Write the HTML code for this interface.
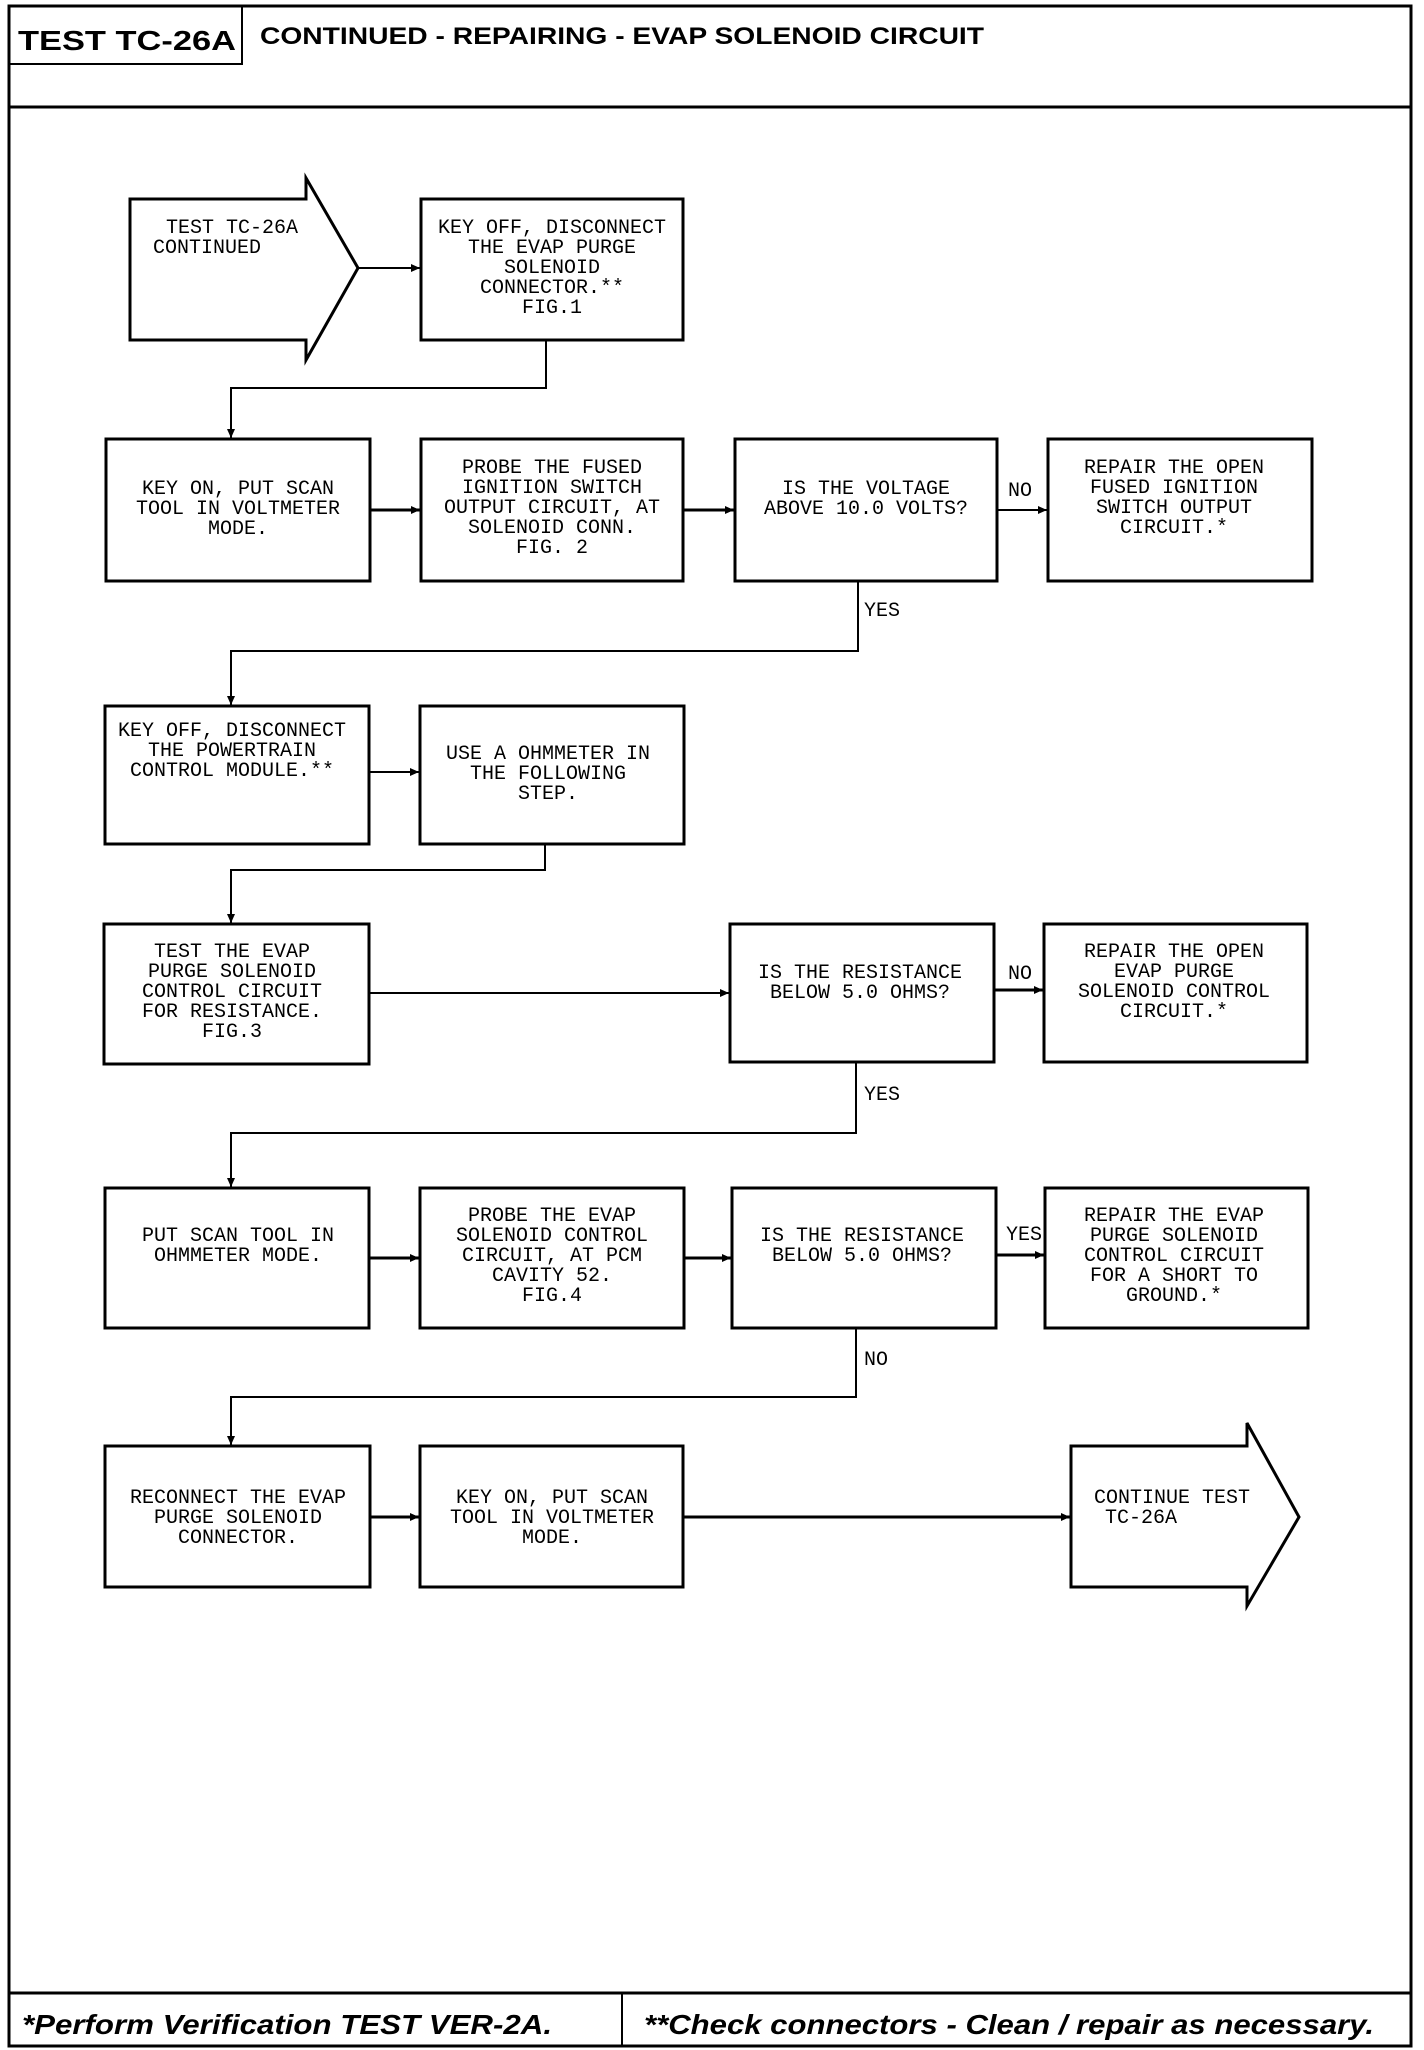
<!DOCTYPE html>
<html><head><meta charset="utf-8"><style>
html,body{margin:0;padding:0;background:#fff;}
svg{display:block;}
.t{font-family:"Liberation Mono",monospace;font-size:20px;text-anchor:middle;fill:#000;}
.l{font-family:"Liberation Mono",monospace;font-size:20px;fill:#000;}
</style></head><body>
<svg width="1424" height="2050" viewBox="0 0 1424 2050" xmlns="http://www.w3.org/2000/svg">
<defs><marker id="a" markerWidth="10" markerHeight="10" refX="9" refY="5" orient="auto" markerUnits="userSpaceOnUse"><path d="M0,1 L9,5 L0,9 Z" fill="#000"/></marker></defs>
<g fill="none" stroke="#000" stroke-width="3">
<rect x="9" y="6" width="1402" height="2040"/>
<line x1="9" y1="107" x2="1411" y2="107"/>
<rect x="9" y="6" width="233" height="58" stroke-width="2"/>
<line x1="9" y1="1993" x2="1411" y2="1993"/>
<line x1="622" y1="1993" x2="622" y2="2046" stroke-width="2"/>
<!-- row1 -->
<path d="M130,199 H306 V178 L358,268 L306,360 V340 H130 Z"/>
<rect x="421" y="199" width="262" height="141"/>
<!-- row2 -->
<rect x="106" y="439" width="264" height="142"/>
<rect x="421" y="439" width="262" height="142"/>
<rect x="735" y="439" width="262" height="142"/>
<rect x="1048" y="439" width="264" height="142"/>
<!-- row3 -->
<rect x="105" y="706" width="264" height="138"/>
<rect x="420" y="706" width="264" height="138"/>
<!-- row4 -->
<rect x="104" y="924" width="265" height="140"/>
<rect x="730" y="924" width="264" height="138"/>
<rect x="1044" y="924" width="263" height="138"/>
<!-- row5 -->
<rect x="105" y="1188" width="264" height="140"/>
<rect x="420" y="1188" width="264" height="140"/>
<rect x="732" y="1188" width="264" height="140"/>
<rect x="1045" y="1188" width="263" height="140"/>
<!-- row6 -->
<rect x="105" y="1446" width="265" height="141"/>
<rect x="420" y="1446" width="263" height="141"/>
<path d="M1071,1446 H1247 V1423 L1299,1517 L1247,1606 V1587 H1071 Z"/>
</g>
<g fill="none" stroke="#000" stroke-width="2">
<line x1="358" y1="268" x2="420" y2="268" marker-end="url(#a)"/>
<polyline points="546,340 546,388 231,388 231,438" marker-end="url(#a)"/>
<line x1="370" y1="510" x2="420" y2="510" stroke-width="3" marker-end="url(#a)"/>
<line x1="683" y1="510" x2="734" y2="510" stroke-width="3" marker-end="url(#a)"/>
<line x1="997" y1="510" x2="1047" y2="510" marker-end="url(#a)"/>
<polyline points="858,581 858,651 231,651 231,705" marker-end="url(#a)"/>
<line x1="369" y1="772" x2="419" y2="772" marker-end="url(#a)"/>
<polyline points="545,844 545,870 231,870 231,923" marker-end="url(#a)"/>
<line x1="369" y1="993" x2="729" y2="993" marker-end="url(#a)"/>
<line x1="994" y1="990" x2="1043" y2="990" stroke-width="3" marker-end="url(#a)"/>
<polyline points="856,1062 856,1133 231,1133 231,1187" marker-end="url(#a)"/>
<line x1="369" y1="1258" x2="419" y2="1258" stroke-width="3" marker-end="url(#a)"/>
<line x1="684" y1="1258" x2="731" y2="1258" stroke-width="3" marker-end="url(#a)"/>
<line x1="996" y1="1255" x2="1044" y2="1255" stroke-width="3" marker-end="url(#a)"/>
<polyline points="856,1328 856,1397 231,1397 231,1445" marker-end="url(#a)"/>
<line x1="370" y1="1517" x2="419" y2="1517" stroke-width="3" marker-end="url(#a)"/>
<line x1="683" y1="1517" x2="1070" y2="1517" stroke-width="3" marker-end="url(#a)"/>
</g>
<text x="18" y="50" font-family="Liberation Sans,sans-serif" font-weight="bold" font-size="28" textLength="218" lengthAdjust="spacingAndGlyphs">TEST TC-26A</text>
<text x="260" y="44" font-family="Liberation Sans,sans-serif" font-weight="bold" font-size="24" textLength="724" lengthAdjust="spacingAndGlyphs">CONTINUED - REPAIRING - EVAP SOLENOID CIRCUIT</text>
<text x="22" y="2034" font-family="Liberation Sans,sans-serif" font-weight="bold" font-style="italic" font-size="28" textLength="530" lengthAdjust="spacingAndGlyphs">*Perform Verification TEST VER-2A.</text>
<text x="644" y="2034" font-family="Liberation Sans,sans-serif" font-weight="bold" font-style="italic" font-size="28" textLength="730" lengthAdjust="spacingAndGlyphs">**Check connectors - Clean / repair as necessary.</text>

<text class="l" x="166" y="233">TEST TC-26A</text>
<text class="l" x="153" y="253">CONTINUED</text>
<g class="t">
<text x="552" y="233">KEY OFF, DISCONNECT</text><text x="552" y="253">THE EVAP PURGE</text><text x="552" y="273">SOLENOID</text><text x="552" y="293">CONNECTOR.**</text><text x="552" y="313">FIG.1</text>

<text x="238" y="494">KEY ON, PUT SCAN</text><text x="238" y="514">TOOL IN VOLTMETER</text><text x="238" y="534">MODE.</text>
<text x="552" y="473">PROBE THE FUSED</text><text x="552" y="493">IGNITION SWITCH</text><text x="552" y="513">OUTPUT CIRCUIT, AT</text><text x="552" y="533">SOLENOID CONN.</text><text x="552" y="553">FIG. 2</text>
<text x="866" y="494">IS THE VOLTAGE</text><text x="866" y="514">ABOVE 10.0 VOLTS?</text>
<text x="1174" y="473">REPAIR THE OPEN</text><text x="1174" y="493">FUSED IGNITION</text><text x="1174" y="513">SWITCH OUTPUT</text><text x="1174" y="533">CIRCUIT.*</text>

<text x="232" y="736">KEY OFF, DISCONNECT</text><text x="232" y="756">THE POWERTRAIN</text><text x="232" y="776">CONTROL MODULE.**</text>
<text x="548" y="759">USE A OHMMETER IN</text><text x="548" y="779">THE FOLLOWING</text><text x="548" y="799">STEP.</text>

<text x="232" y="957">TEST THE EVAP</text><text x="232" y="977">PURGE SOLENOID</text><text x="232" y="997">CONTROL CIRCUIT</text><text x="232" y="1017">FOR RESISTANCE.</text><text x="232" y="1037">FIG.3</text>
<text x="860" y="978">IS THE RESISTANCE</text><text x="860" y="998">BELOW 5.0 OHMS?</text>
<text x="1174" y="957">REPAIR THE OPEN</text><text x="1174" y="977">EVAP PURGE</text><text x="1174" y="997">SOLENOID CONTROL</text><text x="1174" y="1017">CIRCUIT.*</text>

<text x="238" y="1241">PUT SCAN TOOL IN</text><text x="238" y="1261">OHMMETER MODE.</text>
<text x="552" y="1221">PROBE THE EVAP</text><text x="552" y="1241">SOLENOID CONTROL</text><text x="552" y="1261">CIRCUIT, AT PCM</text><text x="552" y="1281">CAVITY 52.</text><text x="552" y="1301">FIG.4</text>
<text x="862" y="1241">IS THE RESISTANCE</text><text x="862" y="1261">BELOW 5.0 OHMS?</text>
<text x="1174" y="1221">REPAIR THE EVAP</text><text x="1174" y="1241">PURGE SOLENOID</text><text x="1174" y="1261">CONTROL CIRCUIT</text><text x="1174" y="1281">FOR A SHORT TO</text><text x="1174" y="1301">GROUND.*</text>

<text x="238" y="1503">RECONNECT THE EVAP</text><text x="238" y="1523">PURGE SOLENOID</text><text x="238" y="1543">CONNECTOR.</text>
<text x="552" y="1503">KEY ON, PUT SCAN</text><text x="552" y="1523">TOOL IN VOLTMETER</text><text x="552" y="1543">MODE.</text>
</g>
<text class="l" x="1094" y="1503">CONTINUE TEST</text>
<text class="l" x="1105" y="1523">TC-26A</text>
<text class="l" x="1008" y="496" font-size="19">NO</text>
<text class="l" x="864" y="616" font-size="19">YES</text>
<text class="l" x="1008" y="979" font-size="19">NO</text>
<text class="l" x="864" y="1100" font-size="19">YES</text>
<text class="l" x="1006" y="1240" font-size="19">YES</text>
<text class="l" x="864" y="1365" font-size="19">NO</text>
</svg>
</body></html>
